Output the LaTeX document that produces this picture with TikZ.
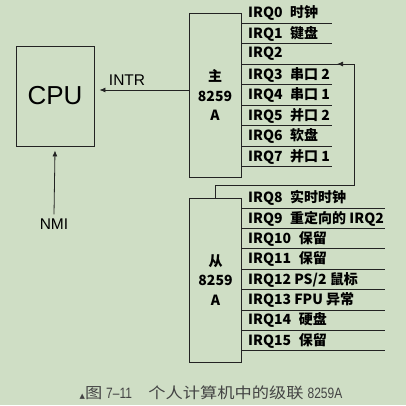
\documentclass[tikz,border=0pt]{standalone}
\usepackage{fontspec}
\setmainfont{Liberation Sans}
\newfontfamily\cjk{Noto Sans CJK SC}
\newfontfamily\capcjk[FakeStretch=1.15]{Noto Sans CJK SC}
\newfontfamily\capnum[FakeStretch=0.8]{Liberation Sans}
\newfontfamily\symb{DejaVu Sans}
\usetikzlibrary{arrows.meta,decorations.markings}
\definecolor{paper}{RGB}{207,222,197}
\definecolor{ink}{RGB}{35,35,35}
\newcommand\irqgap{\hspace{0.55em}}
\tikzset{
  chip/.style={draw=ink,line width=0.9pt,minimum width=52pt,minimum height=164pt,align=center,
    font=\cjk\bfseries\fontsize{14}{19.5}\selectfont},
  irq/.style={anchor=west,inner sep=0pt,font=\cjk\bfseries\fontsize{14}{14}\selectfont},
  wire/.style={draw=ink,line width=0.8pt},
  tip/.style={-{Latex[length=6pt,width=5pt]}}
}
\begin{document}
\begin{tikzpicture}[x=1pt,y=-1pt]
			\fill[paper] (0,0) rectangle (406,405);
			\useasboundingbox (0,0) rectangle (406,405);
			\node[draw=ink,line width=0.9pt,minimum width=78pt,minimum height=100pt,font=\fontsize{26}{26}\selectfont] (cpu) at (55,96) {CPU};
			\node[chip] (master) at (215,95) {主\\8259\\A};
			\node[chip] (slave) at (215.5,280) {从\\8259\\A};
			\foreach \t [count=\i from 0, evaluate=\i as \ly using 23+20.5*\i] in
				{IRQ0\irqgap 时钟, IRQ1\irqgap 键盘, IRQ2, IRQ3\irqgap 串口 2, IRQ4\irqgap 串口 1,
				 IRQ5\irqgap 并口 2, IRQ6\irqgap 软盘, IRQ7\irqgap 并口 1}{
				\node[irq] (m\i) at (248,\ly-10) {\t};
				\draw[wire] (master.east |- 0,\ly) -- (332,\ly);
			}
			\foreach \t [count=\i from 8, evaluate=\i as \ly using 208+20.4*(\i-8)] in
				{IRQ8\irqgap 实时时钟, IRQ9\irqgap 重定向的 IRQ2, IRQ10\irqgap 保留, IRQ11\irqgap 保留,
				 IRQ12 PS/2 鼠标, IRQ13 FPU 异常, IRQ14\irqgap 硬盘, IRQ15\irqgap 保留}{
				\node[irq] (s\i) at (248,\ly-10) {\t};
				\draw[wire] (slave.east |- 0,\ly) -- (385,\ly);
			}
			\coordinate (link) at (354,185);
			\draw[wire,postaction={decorate},decoration={markings,mark=at position 289pt with {\arrow{Latex[length=6pt,width=5pt]}}}]
				(slave.north) |- (link) |- (master.east |- 0,64);
			\draw[wire,tip] (master.west |- 0,90) -- ([xshift=5pt]cpu.east |- 0,90)
				node[pos=0.69,above=1pt,font=\fontsize{15.5}{15.5}\selectfont] (intr) {INTR};
			\node[inner sep=1pt,font=\fontsize{15.5}{15.5}\selectfont] (nmi) at (54,224) {NMI};
			\draw[wire,tip] ([yshift=3pt]nmi.north) -- ([yshift=-4pt]cpu.south);
			\node[text=ink!85,inner sep=0pt,font=\capcjk\fontsize{15}{15}\selectfont] (cap) at (211,393)
				{{\symb\fontsize{7}{7}\selectfont ▲}图 {\capnum 7–11}\hspace{1.1em}个人计算机中的级联 {\capnum 8259A}};
\end{tikzpicture}
\end{document}
